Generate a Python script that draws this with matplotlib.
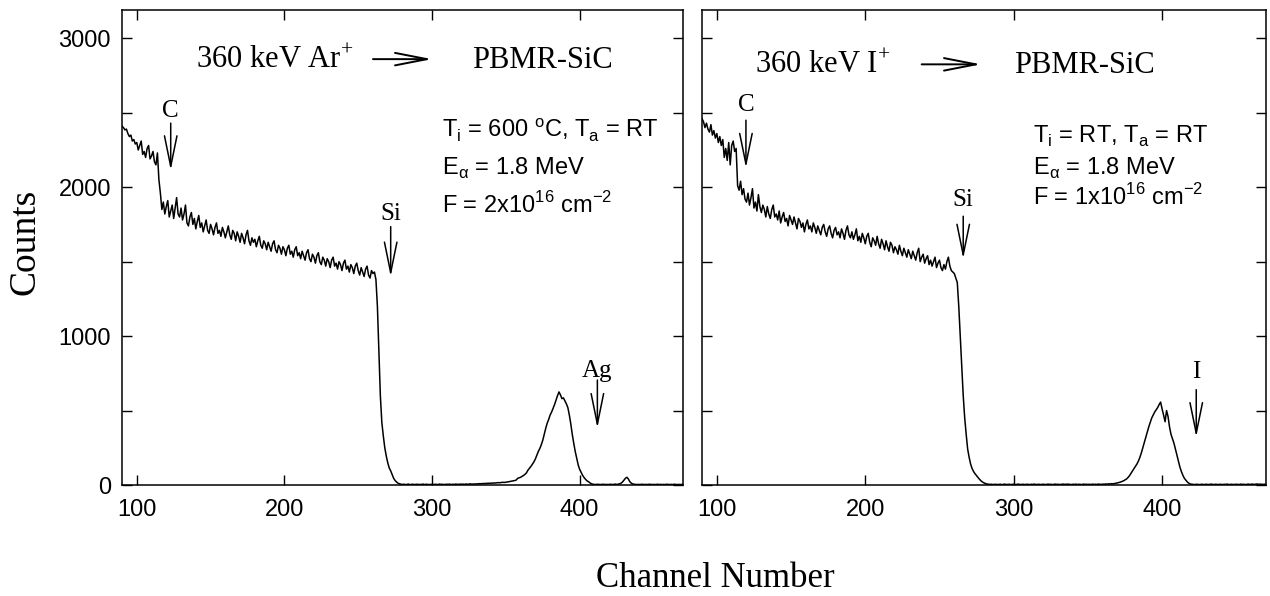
import numpy as np
import matplotlib
matplotlib.use("Agg")
from matplotlib import pyplot as plt

plt.rcParams['font.family'] = ['Liberation Sans', 'DejaVu Sans']

# one value per channel, 90 .. 470
channels = np.arange(90, 471)

# 360 keV Ar+ implanted, Ti = 600 C
ar_counts = [
    2410, 2400, 2385, 2390, 2360, 2340, 2350, 2310, 2320, 2290,   # 90
    2300, 2250, 2280, 2310, 2220, 2240, 2200, 2260, 2280, 2190,   # 100
    2210, 2240, 2170, 2150, 2230, 2050, 1960, 1850, 1900, 1820,   # 110
    1870, 1910, 1800, 1840, 1880, 1790, 1860, 1930, 1820, 1800,   # 120
    1860, 1780, 1820, 1880, 1760, 1740, 1800, 1830, 1750, 1790,   # 130
    1720, 1770, 1810, 1730, 1760, 1700, 1740, 1780, 1710, 1690,   # 140
    1750, 1720, 1680, 1730, 1760, 1690, 1710, 1670, 1730, 1700,   # 150
    1660, 1700, 1740, 1680, 1650, 1710, 1690, 1640, 1700, 1670,   # 160
    1630, 1690, 1660, 1620, 1680, 1710, 1640, 1610, 1660, 1630,   # 170
    1650, 1600, 1640, 1670, 1610, 1590, 1640, 1620, 1580, 1630,   # 180
    1600, 1570, 1620, 1640, 1580, 1560, 1610, 1590, 1550, 1600,   # 190
    1580, 1540, 1590, 1610, 1550, 1570, 1530, 1580, 1600, 1540,   # 200
    1560, 1520, 1570, 1540, 1510, 1560, 1580, 1520, 1500, 1550,   # 210
    1530, 1490, 1540, 1560, 1500, 1480, 1530, 1510, 1470, 1520,   # 220
    1500, 1460, 1510, 1530, 1470, 1490, 1450, 1500, 1480, 1440,   # 230
    1490, 1510, 1450, 1470, 1430, 1480, 1460, 1420, 1470, 1490,   # 240
    1440, 1410, 1460, 1430, 1400, 1450, 1470, 1410, 1390, 1440,   # 250
    1420, 1430, 1380, 1200, 900, 600, 420, 330, 250, 195,         # 260
    150, 115, 95, 70, 45, 30, 20, 12, 8, 5,                       # 270
    4, 5, 3, 4, 6, 3, 4, 5, 3, 4,                                 # 280
    5, 3, 4, 4, 6, 3, 5, 4, 3, 4,                                 # 290
    4, 3, 5, 4, 3, 6, 4, 5, 3, 4,                                 # 300
    5, 4, 6, 3, 5, 4, 6, 5, 4, 6,                                 # 310
    5, 6, 4, 7, 5, 6, 8, 5, 7, 6,                                 # 320
    8, 7, 9, 8, 10, 9, 11, 10, 12, 11,                            # 330
    13, 12, 14, 13, 15, 16, 15, 17, 18, 17,                       # 340
    19, 20, 22, 24, 26, 28, 30, 33, 45, 48,                       # 350
    52, 58, 64, 72, 82, 100, 112, 125, 140, 155,                  # 360
    175, 200, 225, 245, 270, 300, 340, 380, 415, 440,             # 370
    470, 490, 515, 540, 570, 600, 625, 605, 580, 585,             # 380
    565, 545, 520, 470, 410, 340, 280, 225, 180, 135,             # 390
    105, 85, 65, 50, 38, 28, 22, 14, 8, 5,                        # 400
    4, 3, 5, 4, 3, 4, 5, 3, 4, 3,                                 # 410
    4, 5, 3, 4, 6, 4, 5, 8, 12, 20,                               # 420
    32, 45, 52, 40, 22, 12, 7, 5, 4, 3,                           # 430
    4, 3, 5, 4, 3, 4, 3, 5, 4, 3,                                 # 440
    4, 3, 4, 5, 3, 4, 3, 4, 3, 5,                                 # 450
    4, 3, 4, 3, 5, 4, 3, 4, 3, 4,                                 # 460
    3,                                                            # 470
]

# 360 keV I+ implanted, Ti = RT
i_counts = [
    2460, 2440, 2400, 2430, 2390, 2370, 2420, 2350, 2380, 2330,   # 90
    2360, 2300, 2340, 2280, 2320, 2200, 2260, 2180, 2300, 2150,   # 100
    2280, 2310, 2240, 2260, 2010, 1980, 2040, 1950, 1990, 1920,   # 110
    1900, 1960, 1880, 1930, 1990, 1860, 1900, 1840, 1950, 1870,   # 120
    1830, 1880, 1850, 1800, 1870, 1820, 1790, 1850, 1880, 1800,   # 130
    1820, 1780, 1840, 1760, 1800, 1830, 1770, 1790, 1740, 1810,   # 140
    1780, 1750, 1800, 1760, 1720, 1790, 1770, 1730, 1760, 1700,   # 150
    1750, 1780, 1720, 1740, 1700, 1760, 1730, 1690, 1740, 1710,   # 160
    1680, 1730, 1750, 1700, 1670, 1720, 1740, 1690, 1660, 1710,   # 170
    1730, 1680, 1700, 1660, 1720, 1690, 1650, 1710, 1740, 1680,   # 180
    1660, 1700, 1650, 1680, 1720, 1640, 1670, 1630, 1690, 1660,   # 190
    1620, 1670, 1690, 1630, 1600, 1660, 1640, 1610, 1670, 1620,   # 200
    1590, 1650, 1620, 1580, 1640, 1600, 1570, 1630, 1610, 1560,   # 210
    1600, 1580, 1550, 1610, 1570, 1540, 1590, 1560, 1530, 1580,   # 220
    1550, 1520, 1570, 1540, 1510, 1560, 1590, 1500, 1530, 1550,   # 230
    1490, 1520, 1540, 1480, 1510, 1470, 1500, 1530, 1460, 1490,   # 240
    1510, 1460, 1440, 1480, 1450, 1500, 1530, 1470, 1440, 1430,   # 250
    1420, 1390, 1360, 1200, 1000, 800, 600, 450, 340, 240,        # 260
    185, 140, 110, 90, 75, 62, 50, 38, 28, 20,                    # 270
    14, 10, 7, 5, 4, 5, 3, 4, 5, 3,                               # 280
    4, 5, 3, 4, 6, 3, 4, 5, 3, 4,                                 # 290
    5, 3, 4, 6, 4, 3, 5, 4, 3, 5,                                 # 300
    4, 3, 5, 4, 6, 3, 4, 5, 3, 4,                                 # 310
    5, 4, 3, 6, 4, 5, 3, 4, 6, 4,                                 # 320
    5, 3, 4, 6, 5, 4, 6, 5, 4, 3,                                 # 330
    5, 4, 6, 3, 5, 4, 3, 6, 4, 5,                                 # 340
    4, 5, 3, 6, 4, 5, 4, 6, 5, 4,                                 # 350
    6, 5, 7, 6, 8, 7, 9, 8, 10, 12,                               # 360
    14, 17, 20, 24, 28, 34, 40, 50, 62, 78,                       # 370
    95, 110, 125, 140, 160, 185, 215, 250, 285, 320,              # 380
    355, 390, 420, 450, 470, 490, 505, 520, 540, 557,             # 390
    510, 470, 425, 500, 460, 390, 340, 310, 280, 240,             # 400
    200, 160, 120, 90, 65, 45, 32, 20, 12, 7,                     # 410
    5, 4, 3, 5, 4, 3, 4, 5, 3, 4,                                 # 420
    5, 3, 4, 6, 4, 3, 5, 4, 3, 5,                                 # 430
    4, 3, 5, 4, 6, 3, 4, 5, 3, 4,                                 # 440
    5, 4, 3, 6, 4, 5, 3, 4, 6, 4,                                 # 450
    5, 6, 4, 5, 7, 4, 6, 5, 4, 5,                                 # 460
    5,                                                            # 470
]

serif = 'Liberation Serif'

fig = plt.figure(figsize=(12.7, 5.96), dpi=100)
ax1 = fig.add_axes([122/1270, 111/596, 561/1270, 475/596])
ax2 = fig.add_axes([702/1270, 111/596, 564/1270, 475/596])


def setup(ax, ylabels):
    ax.set_xlim(90, 470)
    ax.set_ylim(0, 3190)
    ax.set_xticks([100, 200, 300, 400])
    ax.set_yticks(range(0, 3001, 500))
    if ylabels:
        ax.set_yticklabels(['0', '', '1000', '', '2000', '', '3000'])
    else:
        ax.set_yticklabels([])
    ax.tick_params(direction='in', top=True, right=True, length=7, width=1,
                   labelsize=17)
    ax.tick_params(axis='x', pad=10)
    ax.tick_params(axis='y', pad=8)
    for s in ax.spines.values():
        s.set_linewidth(1.1)


def down_arrow(ax, label, x, ylab, ytop, ytip):
    ax.text(x, ylab, label, family=serif, fontsize=18, ha='center', va='baseline')
    ax.annotate('', xy=(x, ytip), xytext=(x, ytop),
                arrowprops=dict(arrowstyle='->, head_length=2.2, head_width=0.45',
                                mutation_scale=10, lw=1.1, color='k',
                                shrinkA=0, shrinkB=0))


def title_arrow(ax, x0, x1, y):
    ax.annotate('', xy=(x1, y), xytext=(x0, y),
                arrowprops=dict(arrowstyle='->, head_length=2.3, head_width=0.45',
                                mutation_scale=10, lw=1.4, color='k',
                                shrinkA=0, shrinkB=0))


# left panel
ax1.plot(channels, ar_counts, color='k', lw=1.1)
setup(ax1, True)
ax1.text(140, 2800, '360 keV Ar$^\\mathregular{+}$', family=serif, fontsize=22,
         va='baseline')
title_arrow(ax1, 260, 300, 2860)
ax1.text(327, 2800, 'PBMR-SiC', family=serif, fontsize=22, va='baseline')
ax1.text(306.5, 2329, 'T$_\\mathregular{i}$ = 600 $^\\mathregular{o}$C, T$_\\mathregular{a}$ = RT',
         fontsize=17, va='baseline')
ax1.text(306.5, 2081, 'E$_\\mathregular{α}$ = 1.8 MeV', fontsize=17, va='baseline')
ax1.text(306.5, 1826, 'F = 2x10$^\\mathregular{16}$ cm$^\\mathregular{-2}$',
         fontsize=17, va='baseline')
down_arrow(ax1, 'C', 123, 2470, 2430, 2114)
down_arrow(ax1, 'Si', 272, 1779, 1735, 1400)
down_arrow(ax1, 'Ag', 412, 725, 705, 383)

# right panel
ax2.plot(channels, i_counts, color='k', lw=1.1)
setup(ax2, False)
ax2.text(125.7, 2765, '360 keV I$^\\mathregular{+}$', family=serif, fontsize=22,
         va='baseline')
title_arrow(ax2, 238, 278, 2825)
ax2.text(300, 2765, 'PBMR-SiC', family=serif, fontsize=22, va='baseline')
ax2.text(312.7, 2295, 'T$_\\mathregular{i}$ = RT, T$_\\mathregular{a}$ = RT',
         fontsize=17, va='baseline')
ax2.text(312.7, 2081, 'E$_\\mathregular{α}$ = 1.8 MeV', fontsize=17, va='baseline')
ax2.text(312.7, 1879, 'F = 1x10$^\\mathregular{16}$ cm$^\\mathregular{-2}$',
         fontsize=17, va='baseline')
down_arrow(ax2, 'C', 119.6, 2510, 2450, 2130)
down_arrow(ax2, 'Si', 266, 1875, 1805, 1520)
down_arrow(ax2, 'I', 423, 720, 640, 322)

fig.text(25/1270, 1 - 242/596, 'Counts', family=serif, fontsize=27,
         rotation=90, ha='center', va='center')
fig.text(715/1270, 1 - 587/596, 'Channel Number', family=serif, fontsize=25,
         ha='center', va='baseline')

fig.savefig('out.png', dpi=100)
